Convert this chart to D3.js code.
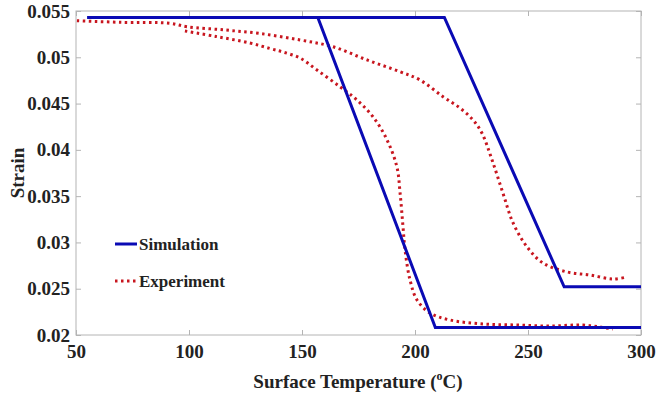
<!DOCTYPE html>
<html><head><meta charset="utf-8">
<script src="https://cdn.jsdelivr.net/npm/d3@7"></script>
<style>
html,body{margin:0;padding:0;background:#fff;}
svg text{font-family:"Liberation Serif","Times New Roman",serif;font-weight:bold;fill:#222;}
</style></head>
<body><svg id="c" width="664" height="394"></svg>
<script>
// ---- data ----
const xTicks = [50, 100, 150, 200, 250, 300];
const yTicks = [0.02, 0.025, 0.03, 0.035, 0.04, 0.045, 0.05, 0.055];
const yTickLabels = ["0.02", "0.025", "0.03", "0.035", "0.04", "0.045", "0.05", "0.055"];
const seriesNames = ["Simulation", "Experiment"];

const simulationA = [[55, 0.0543], [157, 0.0543], [209, 0.0208], [300, 0.0208]];
const simulationB = [[55, 0.0543], [213, 0.0543], [266, 0.0252], [300, 0.0252]];

const experimentB = [
  [50.4, 0.05395], [69.5, 0.05378], [91.6, 0.05367], [99.1, 0.0533], [115.9, 0.05295],
  [131.4, 0.05257], [149.1, 0.05187], [163.7, 0.05114], [178.8, 0.04971], [193.4, 0.04844],
  [202.2, 0.04755], [212.4, 0.04574], [219.9, 0.04452], [225.7, 0.04322], [229.6, 0.04182],
  [234.1, 0.0389], [238.9, 0.03534], [243.4, 0.0321], [249.6, 0.02951], [256.6, 0.02778],
  [267.3, 0.02681], [277.4, 0.02648], [287.6, 0.02605], [293.8, 0.02627]
];
const experimentA = [
  [98.2, 0.05284], [111.9, 0.05225], [127.0, 0.05154], [135.8, 0.05095], [141.6, 0.05057],
  [149.1, 0.04992], [156.6, 0.04863], [166.8, 0.04682], [174.3, 0.04539], [181.4, 0.04358],
  [187.6, 0.04109], [192.0, 0.03815], [193.4, 0.03534], [194.7, 0.03167], [195.6, 0.02918],
  [197.8, 0.02594], [200.9, 0.02378], [206.6, 0.02238], [215.5, 0.02162], [230.1, 0.02119],
  [245.1, 0.02108], [259.7, 0.02097], [274.3, 0.02108], [281.9, 0.02086], [287.6, 0.02065]
];

// ---- layout ----
const L = 76, R = 641, T = 11, B = 335;
const blue = "#0a0ab4", red = "#c8161f", frame = "#b4b4b4";
const svg = d3.select("#c");
const x = d3.scaleLinear().domain([50, 300]).range([L, R]);
const y = d3.scaleLinear().domain([0.02, 0.055]).range([B, T]);

// frame
svg.append("rect").attr("x", L).attr("y", T).attr("width", R - L).attr("height", B - T)
  .attr("fill", "none").attr("stroke", frame).attr("stroke-width", 1);

// axes (ticks inward)
const gx = svg.append("g").attr("transform", `translate(0,${B})`)
  .call(d3.axisBottom(x).tickValues(xTicks).tickSize(-5).tickPadding(9).tickFormat(d3.format("d")));
const gxt = svg.append("g").attr("transform", `translate(0,${T})`)
  .call(d3.axisTop(x).tickValues(xTicks).tickSize(-5).tickFormat(""));
const gy = svg.append("g").attr("transform", `translate(${L},0)`)
  .call(d3.axisLeft(y).tickValues(yTicks).tickSize(-5).tickPadding(6).tickFormat((d, i) => yTickLabels[i]));
const gyr = svg.append("g").attr("transform", `translate(${R},0)`)
  .call(d3.axisRight(y).tickValues(yTicks).tickSize(-5).tickFormat(""));
[gx, gxt, gy, gyr].forEach(g => {
  g.select(".domain").remove();
  g.selectAll(".tick line").attr("stroke", frame);
  g.selectAll("text").style("font-size", "19px").attr("fill", "#222");
});
gx.selectAll(".tick text").attr("dy", "0.72em");

// axis titles
const xt = svg.append("text").attr("x", 358).attr("y", 388).attr("text-anchor", "middle").style("font-size", "19px");
xt.append("tspan").text("Surface Temperature (");
xt.append("tspan").attr("dy", -8).style("font-size", "12px").text("o");
xt.append("tspan").attr("dy", 8).text("C)");
svg.append("text").attr("transform", "translate(24,173) rotate(-90)").attr("text-anchor", "middle")
  .style("font-size", "19px").text("Strain");

// lines
const line = d3.line().x(d => x(d[0])).y(d => y(d[1]));
const lineCat = d3.line().x(d => x(d[0])).y(d => y(d[1])).curve(d3.curveCatmullRom.alpha(0.5));

[experimentB, experimentA].forEach(s => {
  svg.append("path").attr("d", lineCat(s)).attr("fill", "none").attr("stroke", red)
    .attr("stroke-width", 3).attr("stroke-dasharray", "2.5,3.5");
});
[simulationA, simulationB].forEach(s => {
  svg.append("path").attr("d", line(s)).attr("fill", "none").attr("stroke", blue)
    .attr("stroke-width", 3).attr("stroke-linejoin", "miter");
});

// legend
const lg = svg.append("g");
lg.append("line").attr("x1", 115).attr("x2", 137).attr("y1", 244).attr("y2", 244)
  .attr("stroke", blue).attr("stroke-width", 3);
lg.append("text").attr("x", 139).attr("y", 250).style("font-size", "17px").text(seriesNames[0]);
lg.append("line").attr("x1", 115).attr("x2", 137).attr("y1", 281).attr("y2", 281)
  .attr("stroke", red).attr("stroke-width", 3).attr("stroke-dasharray", "2.5,3.5");
lg.append("text").attr("x", 139).attr("y", 287).style("font-size", "17px").text(seriesNames[1]);
</script></body></html>
